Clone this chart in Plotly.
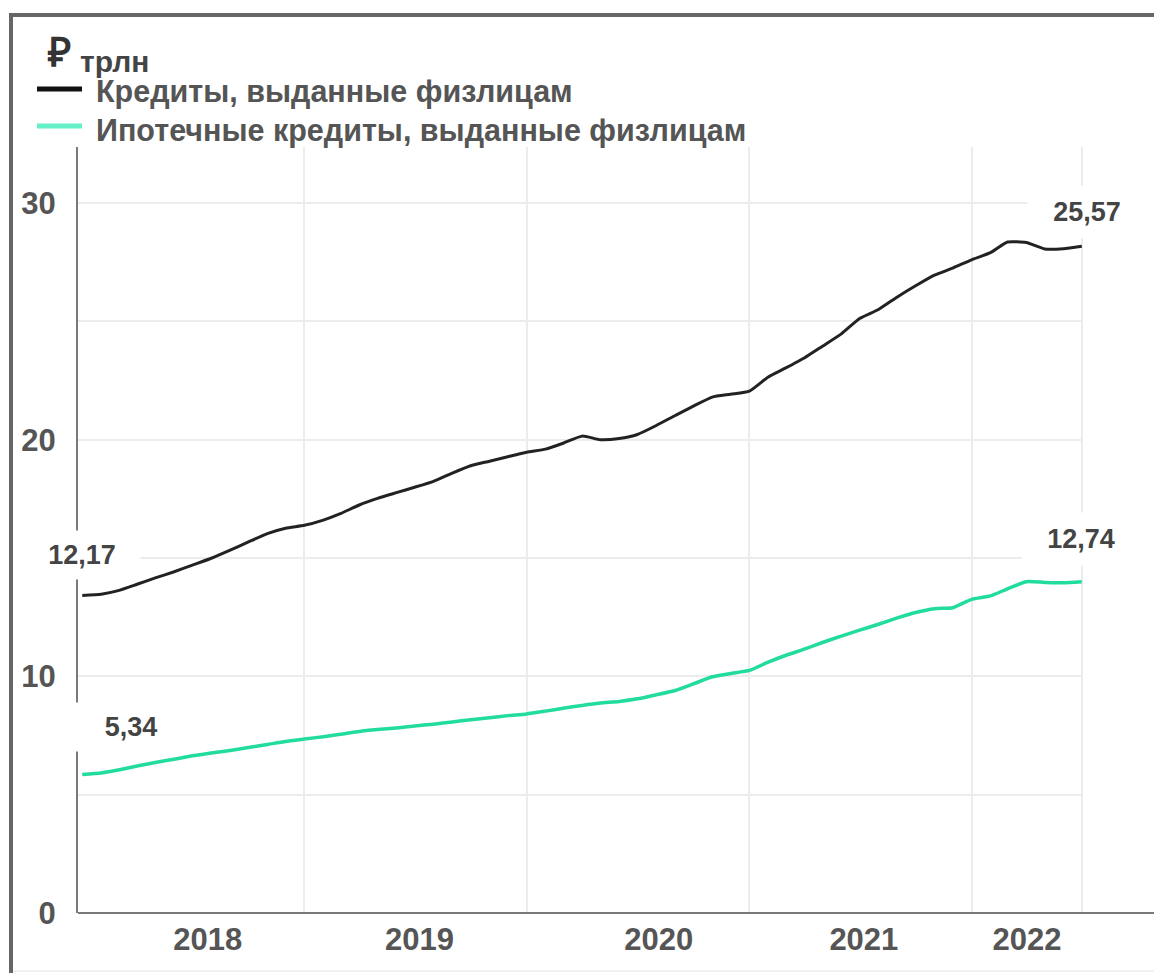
import pandas as pd
import plotly.graph_objects as go

# ---- data ----
dates = pd.date_range("2018-01-01", "2022-07-01", freq="MS")
credits_total = [13.42, 13.47, 13.62, 13.89, 14.16, 14.42, 14.70, 14.99, 15.33, 15.68,
                 16.03, 16.26, 16.38, 16.60, 16.87, 17.24, 17.52, 17.76, 17.99, 18.24,
                 18.59, 18.90, 19.09, 19.28, 19.47, 19.60, 19.85, 20.15, 20.00, 20.05,
                 20.22, 20.60, 21.02, 21.42, 21.80, 21.92, 22.05, 22.65, 23.02, 23.45,
                 23.95, 24.47, 25.12, 25.50, 26.03, 26.50, 26.95, 27.25, 27.60, 27.90,
                 28.35, 28.33, 28.06, 28.07, 28.17]
mortgage = [5.85, 5.92, 6.04, 6.21, 6.36, 6.50, 6.64, 6.76, 6.87, 6.99,
            7.12, 7.25, 7.35, 7.45, 7.55, 7.67, 7.75, 7.82, 7.90, 7.98,
            8.07, 8.17, 8.25, 8.34, 8.41, 8.53, 8.65, 8.77, 8.87, 8.94,
            9.05, 9.22, 9.40, 9.68, 9.98, 10.12, 10.25, 10.60, 10.88, 11.15,
            11.43, 11.70, 11.95, 12.20, 12.47, 12.70, 12.86, 12.90, 13.25, 13.40,
            13.70, 14.00, 13.97, 13.95, 14.00]
series_names = ["Кредиты, выданные физлицам", "Ипотечные кредиты, выданные физлицам"]
start_labels = ["12,17", "5,34"]
end_labels = ["25,57", "12,74"]
year_ticks = ["2018-07-26", "2019-07-09", "2020-08-05", "2021-07-08", "2022-04-02"]
year_text = ["2018", "2019", "2020", "2021", "2022"]
year_grid = ["2019-01-01", "2020-01-01", "2021-01-01", "2022-01-01", "2022-07-01"]
y_ticks = [0, 10, 20, 30]

# ---- layout geometry ----
W, H = 1154, 973
L, R, T, B = 78, 1083, 147, 913
FONT = "Liberation Sans, Arial, Helvetica, sans-serif"


def px(x):
    return (x - L) / (R - L)


def py(y):
    return (B - y) / (B - T)


BLACK = "#222222"
GREEN = "#22dc9c"
GREEN_LEG = "#66f0c8"
TXT = "#555555"

fig = go.Figure()
fig.add_trace(go.Scatter(x=dates, y=credits_total, mode="lines", name=series_names[0],
                         line=dict(color=BLACK, width=3, shape="spline", smoothing=0.5),
                         showlegend=False, hoverinfo="skip"))
fig.add_trace(go.Scatter(x=dates, y=mortgage, mode="lines", name=series_names[1],
                         line=dict(color=GREEN, width=3.5, shape="spline", smoothing=0.5),
                         showlegend=False, hoverinfo="skip"))

shapes = []
# outer frame
shapes.append(dict(type="line", xref="paper", yref="paper", x0=px(11), x1=px(11),
                   y0=py(13), y1=py(H + 5), line=dict(color="#666666", width=4)))
shapes.append(dict(type="line", xref="paper", yref="paper", x0=px(9), x1=px(W + 5),
                   y0=py(15), y1=py(15), line=dict(color="#666666", width=4)))
shapes.append(dict(type="line", xref="paper", yref="paper", x0=px(13), x1=px(W + 5),
                   y0=py(971), y1=py(971), line=dict(color="#e4e4e4", width=1)))
# bottom axis line extending to the right edge
shapes.append(dict(type="line", xref="paper", yref="paper", x0=0, x1=px(W + 5),
                   y0=0, y1=0, line=dict(color="#7a7a7a", width=2)))
# legend swatches
shapes.append(dict(type="line", xref="paper", yref="paper", x0=px(37), x1=px(82),
                   y0=py(89), y1=py(89), line=dict(color="#111111", width=5)))
shapes.append(dict(type="line", xref="paper", yref="paper", x0=px(37), x1=px(82),
                   y0=py(126), y1=py(126), line=dict(color=GREEN_LEG, width=5)))

annotations = []
annotations.append(dict(xref="paper", yref="paper", x=px(59), y=py(52), text="₽",
                        showarrow=False, xanchor="center", yanchor="middle",
                        font=dict(family=FONT, size=40, color="#333333", weight="bold")))
annotations.append(dict(xref="paper", yref="paper", x=px(78), y=py(61), text="трлн",
                        showarrow=False, xanchor="left", yanchor="middle",
                        font=dict(family=FONT, size=30, color="#444444", weight="bold")))
for i, yy in enumerate([92, 130]):
    annotations.append(dict(xref="paper", yref="paper", x=px(94), y=py(yy),
                            text=series_names[i], showarrow=False,
                            xanchor="left", yanchor="middle",
                            font=dict(family=FONT, size=30.5, color=TXT, weight="bold")))

lab_font = dict(family=FONT, size=27, color="#444444", weight="bold")
vals = [credits_total, mortgage]
start_shift = [(0, 40), (49, 48)]
end_shift = [(5, 34), (-1, 43)]
for i in range(2):
    annotations.append(dict(x=dates[0], y=vals[i][0], xref="x", yref="y",
                            text=start_labels[i], showarrow=False,
                            xshift=start_shift[i][0], yshift=start_shift[i][1],
                            bgcolor="white", width=100, height=32, borderpad=8,
                            font=lab_font))
    annotations.append(dict(x=dates[-1], y=vals[i][-1], xref="x", yref="y",
                            text=end_labels[i], showarrow=False,
                            xshift=end_shift[i][0], yshift=end_shift[i][1],
                            bgcolor="white", width=100, height=34, borderpad=9,
                            font=lab_font))

y_top = 30 * (B - T) / (B - 203)

fig.update_layout(
    width=W, height=H,
    margin=dict(l=L, r=W - R, t=T, b=H - B, pad=0),
    paper_bgcolor="white", plot_bgcolor="white",
    shapes=shapes, annotations=annotations,
    showlegend=False,
    xaxis=dict(
        type="date",
        range=["2017-12-25", "2022-07-03"],
        tickmode="array", tickvals=year_ticks, ticktext=year_text,
        showgrid=False, ticks="", zeroline=False, showline=False,
        tickfont=dict(family=FONT, size=31, color=TXT, weight="bold"),
        ticklabelstandoff=5,
        minor=dict(tickmode="array", tickvals=year_grid, showgrid=True,
                   gridcolor="#ececec", gridwidth=2, ticks=""),
    ),
    yaxis=dict(
        range=[0, y_top],
        tickmode="array", tickvals=y_ticks,
        showgrid=True, gridcolor="#ececec", gridwidth=2,
        ticks="", zeroline=False,
        showline=True, linecolor="#7a7a7a", linewidth=2,
        tickfont=dict(family=FONT, size=31, color=TXT, weight="bold"),
        ticklabelstandoff=14,
        minor=dict(dtick=5, showgrid=True, gridcolor="#ececec", gridwidth=2, ticks=""),
    ),
)

fig.write_html("out.html", config={"displayModeBar": False},
               post_script="document.body.style.margin='0';")
